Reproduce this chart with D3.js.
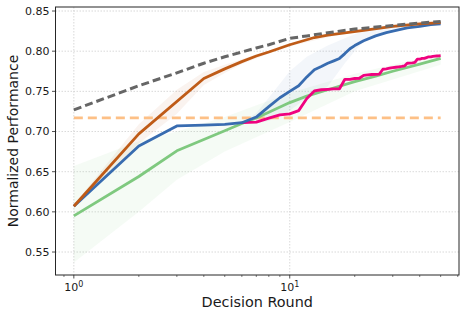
<!DOCTYPE html>
<html><head><meta charset="utf-8">
<script src="https://cdn.jsdelivr.net/npm/d3@7"></script>
<style>body{margin:0;background:#fff}svg{display:block}text{font-family:"DejaVu Sans",sans-serif}</style>
</head><body><svg id="c" width="466" height="316"></svg>
<script>
const yTicks=[0.55,0.60,0.65,0.70,0.75,0.80,0.85];
const xTicks=[1,10];
const xMinor=[0.9,2,3,4,5,6,7,8,9,20,30,40,50,60];

const grayX=[1,2,3,4,5,6,7,8,10,12,15,20,30,40,50];
const grayY=[0.727,0.757,0.773,0.785,0.793,0.799,0.804,0.808,0.816,0.819,0.823,0.8275,0.832,0.835,0.837];

const orangeX=[1,2,4,5,6,7,8,10,13,15,22,30,40,50];
const orangeY=[0.607,0.697,0.766,0.778,0.787,0.794,0.799,0.808,0.817,0.820,0.826,0.831,0.834,0.8355];
const orangeBandX=[1,2,3,4,5,6,8,10,20,50];
const orangeLo=[0.605,0.685,0.722,0.758,0.773,0.784,0.797,0.806,0.825,0.835];
const orangeHi=[0.609,0.709,0.752,0.774,0.783,0.790,0.801,0.810,0.827,0.836];

const baselineX=[1,50];
const baselineY=[0.717,0.717];

const blueX=[1,2,3,4,5,6,7,8,9,10,11,12,13,14,15,16,17,18,19,20,22,25,28,30,35,40,45,50];
const blueY=[0.607,0.682,0.707,0.708,0.709,0.711,0.718,0.731,0.742,0.750,0.757,0.768,0.777,0.781,0.785,0.788,0.791,0.797,0.803,0.807,0.813,0.819,0.823,0.825,0.829,0.831,0.833,0.834];
const blueBandX=[5,6,7,8,10,12,15,18,20,22,25,30,40,50];
const blueLo=[0.708,0.709,0.710,0.713,0.726,0.742,0.756,0.785,0.800,0.812,0.820,0.828,0.832,0.834];
const blueHi=[0.709,0.712,0.723,0.742,0.775,0.793,0.807,0.816,0.821,0.825,0.829,0.833,0.836,0.837];

const pinkX=[6,7,8,9,10,11,12,13,14,15,16,17,18,19,20,21,22,23,24,25,26,27,28,29,30,31,32,33,34,35,36,37,38,39,40,41,42,43,44,45,46,47,48,49,50];
const pinkY=[0.711,0.7116,0.7166,0.7207,0.7219,0.726,0.741,0.7505,0.752,0.7525,0.753,0.7532,0.765,0.765,0.766,0.7663,0.770,0.7705,0.771,0.7712,0.7715,0.7775,0.778,0.7788,0.7795,0.780,0.7805,0.781,0.7816,0.785,0.7852,0.7855,0.786,0.790,0.790,0.791,0.791,0.792,0.793,0.793,0.7935,0.7938,0.794,0.7942,0.7944];

const greenX=[1,2,3,4,5,6,7,8,10,12,15,20,25,30,40,50];
const greenY=[0.595,0.644,0.676,0.690,0.701,0.710,0.717,0.724,0.736,0.744,0.752,0.762,0.769,0.775,0.784,0.791];
const greenBandX=[1,2,3,5,10,20,50];
const greenLo=[0.537,0.600,0.640,0.675,0.712,0.750,0.783];
const greenHi=[0.657,0.688,0.700,0.718,0.748,0.772,0.797];

const svg=d3.select("#c");
const L=55.5,R=459,T=7,B=275;
const x=d3.scaleLog().domain([Math.pow(10,-0.08495),Math.pow(10,1.78395)]).range([L,R]);
const y=d3.scaleLinear().domain([0.5214,0.855]).range([B,T]);

const g=svg.append("g");
// grid
g.selectAll(".gy").data(yTicks).join("line").attr("x1",L).attr("x2",R).attr("y1",d=>y(d)).attr("y2",d=>y(d))
 .attr("stroke","#cfcfcf").attr("stroke-width",0.8).attr("stroke-dasharray","1.5,1.5");
g.selectAll(".gx").data(xTicks).join("line").attr("y1",T).attr("y2",B).attr("x1",d=>x(d)).attr("x2",d=>x(d))
 .attr("stroke","#cfcfcf").attr("stroke-width",0.8).attr("stroke-dasharray","1.5,1.5");

function pts(xs,ys){return xs.map((v,i)=>[v,ys[i]]);}
const line=d3.line().x(d=>x(d[0])).y(d=>y(d[1]));
const area=d3.area().x(d=>x(d[0])).y0(d=>y(d[1])).y1(d=>y(d[2]));
function band(xs,lo,hi,col,op){
  g.append("path").datum(xs.map((v,i)=>[v,lo[i],hi[i]])).attr("d",area).attr("fill",col).attr("fill-opacity",op).attr("stroke","none");
}
band(greenBandX,greenLo,greenHi,"#7fc97f",0.08);
band(blueBandX,blueLo,blueHi,"#386cb0",0.06);
band(orangeBandX,orangeLo,orangeHi,"#bf5b17",0.07);

function ln(xs,ys,col,w,dash){
  const p=g.append("path").datum(pts(xs,ys)).attr("d",line).attr("fill","none").attr("stroke",col).attr("stroke-width",w).attr("stroke-linejoin","round");
  if(dash)p.attr("stroke-dasharray",dash);
}
ln(baselineX,baselineY,"#fdc086",2.8,"9,5");
ln(greenX,greenY,"#7fc97f",2.8);
ln(pinkX,pinkY,"#f0027f",2.8);
ln(blueX,blueY,"#386cb0",2.8);
ln(orangeX,orangeY,"#bf5b17",2.8);
ln(grayX,grayY,"#666666",3,"8,4");

// spines
svg.append("rect").attr("x",L).attr("y",T).attr("width",R-L).attr("height",B-T).attr("fill","none").attr("stroke","#262626").attr("stroke-width",1);

// y ticks
const yt=svg.append("g");
yt.selectAll("line").data(yTicks).join("line").attr("x1",L-3.5).attr("x2",L).attr("y1",d=>y(d)).attr("y2",d=>y(d)).attr("stroke","#262626").attr("stroke-width",0.8);
yt.selectAll("text").data(yTicks).join("text").attr("x",L-6).attr("y",d=>y(d)).attr("dy","0.36em").attr("text-anchor","end")
 .attr("font-size",11).attr("fill","#1a1a1a").text(d=>d3.format(".2f")(d));
// x ticks
const xt=svg.append("g");
xt.selectAll("line.maj").data(xTicks).join("line").attr("class","maj").attr("x1",d=>x(d)).attr("x2",d=>x(d)).attr("y1",B).attr("y2",B+3.5).attr("stroke","#262626").attr("stroke-width",0.8);
xt.selectAll("line.min").data(xMinor).join("line").attr("class","min").attr("x1",d=>x(d)).attr("x2",d=>x(d)).attr("y1",B).attr("y2",B+2).attr("stroke","#262626").attr("stroke-width",0.6);
xt.selectAll("text").data(xTicks).join("text").attr("x",d=>x(d)).attr("y",B+16).attr("text-anchor","middle").attr("font-size",11).attr("fill","#1a1a1a")
 .each(function(d){const t=d3.select(this);t.append("tspan").text("10");t.append("tspan").attr("dy",-4.5).attr("font-size",8).text(String(Math.round(Math.log10(d))));});

svg.append("text").attr("x",(L+R)/2).attr("y",307).attr("text-anchor","middle").attr("font-size",14.4).attr("fill","#1a1a1a").text("Decision Round");
svg.append("text").attr("transform",`translate(18,${(T+B)/2}) rotate(-90)`).attr("text-anchor","middle").attr("font-size",14).attr("fill","#1a1a1a").text("Normalized Performance");
</script></body></html>
